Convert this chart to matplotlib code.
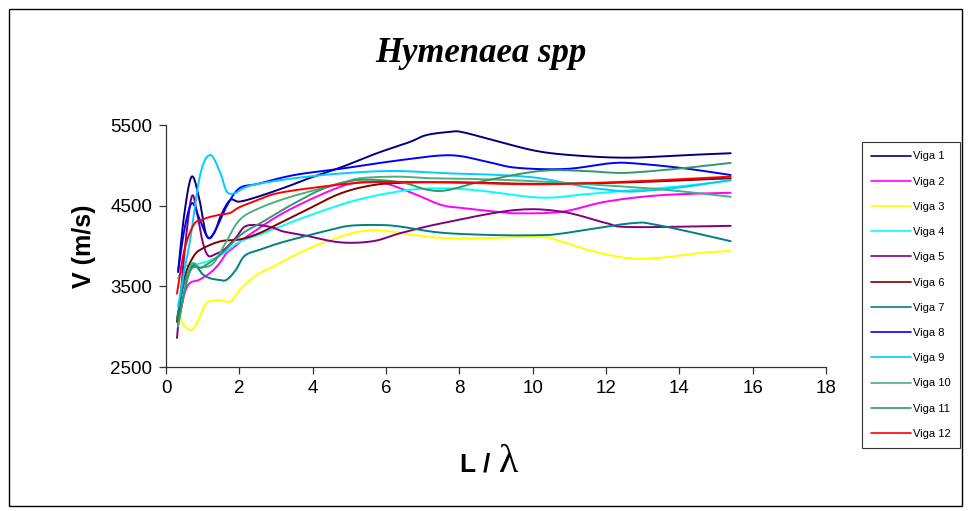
import numpy as np
import matplotlib
matplotlib.use("Agg")
import matplotlib.pyplot as plt
from matplotlib.patches import Rectangle

# L/lambda positions and velocities (m/s) for each beam
viga1_x = [0.33, 0.5, 0.7, 0.9, 1.1, 1.3, 1.5, 1.75, 2.0, 2.5, 3.3, 3.9, 4.8, 5.75, 6.65, 7.1, 7.75, 8.1, 9.1, 10.2, 11.4, 12.65, 14.1, 15.4]
viga1_v = [3680, 4400, 4860, 4600, 4140, 4150, 4380, 4570, 4550, 4610, 4735, 4840, 4980, 5150, 5290, 5375, 5415, 5410, 5290, 5170, 5115, 5095, 5125, 5150]

viga2_x = [0.33, 0.5, 0.65, 0.9, 1.2, 1.45, 1.65, 1.9, 2.2, 3.2, 4.5, 5.2, 5.9, 6.7, 7.5, 8.1, 9.0, 9.6, 10.8, 12.0, 13.5, 15.4]
viga2_v = [3050, 3400, 3540, 3580, 3665, 3780, 3910, 4000, 4115, 4410, 4690, 4785, 4785, 4660, 4510, 4470, 4425, 4405, 4425, 4550, 4630, 4660]

viga3_x = [0.33, 0.45, 0.7, 0.9, 1.1, 1.45, 1.75, 1.95, 2.1, 2.5, 2.9, 3.8, 4.75, 5.45, 6.1, 7.5, 9.0, 10.2, 10.8, 11.6, 12.6, 13.5, 14.6, 15.4]
viga3_v = [3310, 3050, 2960, 3100, 3290, 3330, 3310, 3420, 3500, 3650, 3740, 3950, 4115, 4190, 4180, 4100, 4100, 4115, 4055, 3940, 3850, 3855, 3915, 3940]

viga4_x = [0.33, 0.5, 0.8, 1.2, 1.6, 2.0, 2.6, 3.8, 5.2, 6.55, 7.5, 8.5, 10.2, 11.4, 12.65, 14.0, 15.4]
viga4_v = [3600, 3740, 3770, 3820, 3920, 4050, 4150, 4360, 4570, 4690, 4715, 4690, 4600, 4640, 4690, 4740, 4810]

viga5_x = [0.3, 0.5, 0.7, 0.85, 1.0, 1.15, 1.35, 1.6, 1.9, 2.15, 2.5, 2.9, 3.2, 3.8, 4.75, 5.65, 6.4, 7.5, 9.5, 10.8, 12.0, 12.65, 15.4]
viga5_v = [2860, 3900, 4610, 4400, 4050, 3880, 3900, 3960, 4100, 4240, 4260, 4230, 4180, 4130, 4045, 4060, 4160, 4280, 4445, 4425, 4285, 4235, 4250]

viga6_x = [0.3, 0.5, 0.75, 1.0, 1.5, 2.0, 2.5, 3.0, 3.8, 4.75, 5.65, 6.55, 8.0, 10.2, 12.7, 15.4]
viga6_v = [3060, 3600, 3870, 3970, 4060, 4080, 4150, 4260, 4440, 4650, 4755, 4785, 4790, 4770, 4790, 4840]

viga7_x = [0.3, 0.5, 0.75, 1.0, 1.2, 1.45, 1.65, 1.9, 2.15, 2.6, 3.2, 4.3, 5.0, 5.85, 6.4, 7.5, 9.0, 10.2, 10.8, 12.65, 13.4, 15.4]
viga7_v = [3100, 3550, 3760, 3650, 3600, 3580, 3580, 3700, 3880, 3960, 4050, 4180, 4250, 4260, 4240, 4165, 4135, 4135, 4155, 4280, 4260, 4060]

viga8_x = [0.33, 0.5, 0.7, 0.9, 1.15, 1.35, 1.65, 2.0, 2.5, 3.5, 4.8, 6.4, 7.75, 8.75, 9.55, 10.9, 12.1, 12.75, 14.1, 15.4]
viga8_v = [3680, 4200, 4530, 4350, 4100, 4200, 4490, 4715, 4770, 4880, 4960, 5065, 5125, 5045, 4970, 4955, 5025, 5025, 4965, 4880]

viga9_x = [0.33, 0.5, 0.65, 0.93, 1.2, 1.47, 1.65, 1.85, 2.05, 2.4, 3.5, 4.8, 6.2, 7.75, 9.1, 10.2, 11.4, 12.1, 12.75, 14.1, 15.4]
viga9_v = [3250, 3700, 4050, 4880, 5128, 4920, 4680, 4650, 4700, 4760, 4840, 4900, 4930, 4900, 4880, 4840, 4735, 4695, 4675, 4730, 4820]

viga10_x = [0.33, 0.65, 0.95, 1.3, 1.65, 2.0, 2.5, 3.4, 4.8, 5.3, 6.3, 7.2, 8.5, 10.2, 12.7, 14.0, 15.4]
viga10_v = [3000, 3740, 3730, 3790, 4060, 4320, 4460, 4610, 4780, 4840, 4860, 4840, 4830, 4800, 4730, 4680, 4610]

viga11_x = [0.33, 0.65, 1.0, 1.45, 1.75, 2.1, 2.6, 3.5, 4.4, 5.3, 6.4, 7.1, 7.65, 8.6, 10.2, 11.4, 12.1, 12.7, 14.0, 15.4]
viga11_v = [3050, 3680, 3740, 3880, 4010, 4160, 4290, 4530, 4730, 4820, 4790, 4700, 4690, 4800, 4930, 4930, 4910, 4910, 4960, 5030]

viga12_x = [0.3, 0.5, 0.75, 0.95, 1.2, 1.5, 1.75, 2.0, 2.5, 3.0, 3.9, 5.3, 6.6, 8.0, 10.2, 12.7, 15.4]
viga12_v = [3410, 3950, 4260, 4320, 4360, 4390, 4410, 4480, 4570, 4650, 4715, 4785, 4795, 4785, 4765, 4800, 4860]

labels = ["Viga 1", "Viga 2", "Viga 3", "Viga 4", "Viga 5", "Viga 6",
          "Viga 7", "Viga 8", "Viga 9", "Viga 10", "Viga 11", "Viga 12"]
colors = ["#000080", "#FF00FF", "#FFFF00", "#00FFFF", "#800080", "#800000",
          "#008080", "#0000FF", "#00CCFF", "#4CAF7D", "#339966", "#FF0000"]

series = [(viga1_x, viga1_v), (viga2_x, viga2_v), (viga3_x, viga3_v),
          (viga4_x, viga4_v), (viga5_x, viga5_v), (viga6_x, viga6_v),
          (viga7_x, viga7_v), (viga8_x, viga8_v), (viga9_x, viga9_v),
          (viga10_x, viga10_v), (viga11_x, viga11_v), (viga12_x, viga12_v)]


def smooth_path(x, y, n=12):
    """Catmull-Rom path through the points, like a spreadsheet's smoothed line."""
    p = np.column_stack([x, y]).astype(float)
    p = np.vstack([p[0], p, p[-1]])
    out = []
    t = np.linspace(0, 1, n, endpoint=False)
    for i in range(1, len(p) - 2):
        p0, p1, p2, p3 = p[i - 1], p[i], p[i + 1], p[i + 2]
        tt = t[:, None]
        seg = 0.5 * ((2 * p1) + (-p0 + p2) * tt + (2 * p0 - 5 * p1 + 4 * p2 - p3) * tt ** 2
                     + (-p0 + 3 * p1 - 3 * p2 + p3) * tt ** 3)
        out.append(seg)
    out.append(p[-2][None, :])
    out = np.vstack(out)
    return out[:, 0], out[:, 1]


plt.rcParams['font.family'] = ['Liberation Sans', 'DejaVu Sans']

fig = plt.figure(figsize=(9.71, 5.11), dpi=100)
ax = fig.add_axes([166 / 971, 1 - 367 / 511, 660 / 971, 242 / 511])

for (xs, vs), lab, col in zip(series, labels, colors):
    sx, sy = smooth_path(xs, vs)
    ax.plot(sx, sy, color=col, lw=1.4, label=lab, solid_capstyle='round')

ax.set_xlim(0, 18)
ax.set_ylim(2500, 5500)
ax.set_xticks(np.arange(0, 19, 2))
ax.set_yticks([2500, 3500, 4500, 5500])
ax.spines['top'].set_visible(False)
ax.spines['right'].set_visible(False)
for s in ('left', 'bottom'):
    ax.spines[s].set_linewidth(0.9)
    ax.spines[s].set_color('#333333')
ax.tick_params(direction='out', length=5, width=0.9, labelsize=13.5, color='#333333', pad=5)
ax.tick_params(axis='x', pad=4)

ax.set_ylabel("V (m/s)", fontsize=18, fontweight='bold', labelpad=10)

fig.text(481 / 971, 1 - 54 / 511, "Hymenaea spp", ha='center', va='center',
         fontsize=25, fontweight='bold', fontstyle='italic', family='Liberation Serif')
fig.text(498 / 971, 1 - 472 / 511, "L / ", ha='right', va='baseline',
         fontsize=19, fontweight='bold')
fig.text(499 / 971, 1 - 472 / 511, "λ", ha='left', va='baseline',
         fontsize=29, family='Liberation Serif')

leg = fig.legend(loc='upper left', bbox_to_anchor=(862 / 971, 1 - 142 / 511),
                 frameon=True, fancybox=False, fontsize=8, handlelength=3.6,
                 handletextpad=0.15, labelspacing=1.37, borderpad=0.85,
                 borderaxespad=0)
leg.get_frame().set_edgecolor('black')
leg.get_frame().set_linewidth(0.8)
for h in leg.get_lines():
    h.set_linewidth(1.2)

fig.patches.append(Rectangle((9 / 971, 1 - 506 / 511), 953 / 971, 497 / 511,
                             transform=fig.transFigure, fill=False,
                             edgecolor='black', linewidth=1.0))

fig.savefig("out.png", dpi=100)
